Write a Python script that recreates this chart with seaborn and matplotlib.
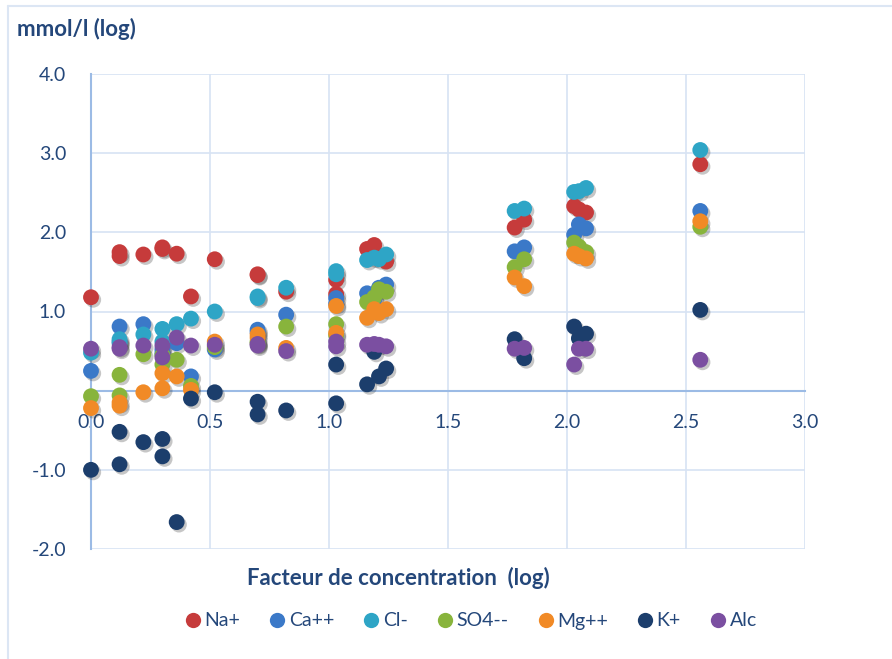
import matplotlib
matplotlib.use("Agg")
import matplotlib.pyplot as plt
import matplotlib.patheffects as pe
from matplotlib.lines import Line2D
import numpy as np
import pandas as pd
import seaborn as sns

# Concentration factor (log) of each sample
conc_factor = [0.00, 0.12, 0.12, 0.22, 0.30, 0.30, 0.36, 0.42, 0.52, 0.70, 0.70, 0.82,
               1.03, 1.03, 1.16, 1.19, 1.21, 1.24, 1.78, 1.82, 2.03, 2.05, 2.08, 2.56]

# Ion concentrations, mmol/l (log)
na = [1.18, 1.75, 1.70, 1.72, 1.81, 1.79, 1.73, 1.19, 1.66, 1.47, 1.46, 1.25,
      1.40, 1.22, 1.79, 1.84, 1.70, 1.63, 2.06, 2.16, 2.33, 2.29, 2.25, 2.86]
ca = [0.25, 0.81, 0.62, 0.84, 0.52, 0.47, 0.60, 0.18, 0.52, 0.77, 0.74, 0.96,
      1.17, 1.10, 1.23, 1.15, 1.30, 1.34, 1.76, 1.81, 1.97, 2.10, 2.05, 2.27]
cl = [0.48, 0.65, 0.60, 0.71, 0.78, 0.62, 0.84, 0.91, 1.00, 1.19, 1.17, 1.30,
      1.51, 1.47, 1.65, 1.68, 1.66, 1.72, 2.27, 2.30, 2.51, 2.52, 2.56, 3.04]
so4 = [-0.07, 0.20, -0.06, 0.46, 0.45, 0.33, 0.39, 0.06, 0.55, 0.62, 0.60, 0.81,
       0.84, 0.70, 1.12, 1.18, 1.28, 1.25, 1.56, 1.66, 1.87, 1.82, 1.75, 2.07]
mg = [-0.22, -0.15, -0.19, -0.02, 0.22, 0.03, 0.18, 0.01, 0.62, 0.71, 0.67, 0.54,
      1.07, 0.73, 0.92, 1.03, 0.98, 1.03, 1.43, 1.32, 1.73, 1.70, 1.67, 2.14]
k = [-1.00, -0.52, -0.93, -0.65, -0.61, -0.83, -1.66, -0.10, -0.02, -0.14, -0.30, -0.25,
     0.33, -0.16, 0.08, 0.49, 0.18, 0.28, 0.65, 0.41, 0.81, 0.66, 0.72, 1.02]
alc = [0.53, 0.55, 0.53, 0.57, 0.57, 0.42, 0.67, 0.57, 0.58, 0.57, 0.59, 0.50,
       0.62, 0.56, 0.58, 0.59, 0.58, 0.56, 0.53, 0.54, 0.33, 0.53, 0.53, 0.39]

ions = ["Na+", "Ca++", "Cl-", "SO4--", "Mg++", "K+", "Alc"]
colors = ["#C63B3B", "#3B79C8", "#2EA5C6", "#88B43C", "#F18A26", "#1C3E6C", "#7B4FA1"]

x_ticks = [0.0, 0.5, 1.0, 1.5, 2.0, 2.5, 3.0]
y_ticks = [-2.0, -1.0, 0.0, 1.0, 2.0, 3.0, 4.0]

df = pd.concat(
    [pd.DataFrame({"x": conc_factor, "y": vals, "ion": name})
     for name, vals in zip(ions, [na, ca, cl, so4, mg, k, alc])],
    ignore_index=True,
)

sns.set_theme(style="white")
plt.rcParams["font.family"] = ["Lato", "DejaVu Sans"]

W, H = 892, 659
fig = plt.figure(figsize=(W / 100, H / 100), dpi=100)
ax = fig.add_axes([91 / W, (H - 549) / H, (805 - 91) / W, (549 - 74) / H])

text_col = "#24477A"
grid_col = "#D7E3F3"
axis_col = "#9CBBE5"

ax.set_xlim(0, 3.0)
ax.set_ylim(-2.0, 4.0)
ax.set_xticks(x_ticks)
ax.set_yticks(y_ticks)
ax.grid(True, color=grid_col, linewidth=1.2)
ax.set_axisbelow(True)

sns.scatterplot(data=df, x="x", y="y", hue="ion", palette=colors, hue_order=ions,
                s=130, linewidth=0, legend=False, ax=ax, zorder=3, clip_on=False)
for coll in ax.collections:
    coll.set_path_effects([pe.SimplePatchShadow(offset=(1.6, -1.8), shadow_rgbFace="#333333", alpha=0.28),
                           pe.Normal()])

for side in ["top", "right"]:
    ax.spines[side].set_visible(False)
ax.spines["left"].set_color(axis_col)
ax.spines["left"].set_linewidth(1.5)
ax.spines["bottom"].set_position(("data", 0))
ax.spines["bottom"].set_color(axis_col)
ax.spines["bottom"].set_linewidth(1.5)

ax.set_xticklabels([f"{v:.1f}" for v in x_ticks])
ax.set_yticklabels(["" if v == 0 else f"{v:.1f}" for v in y_ticks])
ax.tick_params(axis="x", length=0, pad=17, labelsize=14, labelcolor=text_col)
ax.tick_params(axis="y", length=0, pad=18, labelsize=14, labelcolor=text_col)
ax.set_xlabel("")
ax.set_ylabel("")

fig.text(17 / W, 1 - 29 / H, "mmol/l (log)", fontsize=16, fontweight="bold",
         color=text_col, ha="left", va="center")
fig.text(398 / W, 1 - 578 / H, "Facteur de concentration  (log)", fontsize=16,
         fontweight="bold", color=text_col, ha="center", va="center")

handles = [Line2D([], [], marker="o", linestyle="none", markersize=11,
                  markerfacecolor=c, markeredgewidth=0, label=n)
           for n, c in zip(ions, colors)]
fig.legend(handles=handles, loc="center", bbox_to_anchor=(470 / W, 1 - 621 / H),
           ncol=7, frameon=False, fontsize=14, labelcolor=text_col,
           handletextpad=0.1, columnspacing=1.4, handlelength=1.0)

# Chart frame
fig.add_artist(Line2D([8 / W, 1.0], [1 - 6 / H, 1 - 6 / H], color="#DCE6F4", linewidth=1.5))
fig.add_artist(Line2D([8 / W, 8 / W], [0, 1 - 6 / H], color="#DCE6F4", linewidth=1.5))

fig.savefig("out.png", dpi=100)
